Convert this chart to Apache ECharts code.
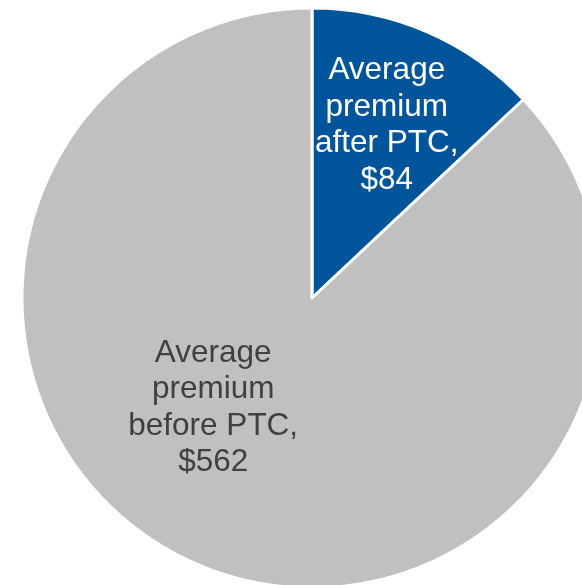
<!DOCTYPE html>
<html>
<head>
<meta charset="utf-8">
<script src="https://cdn.jsdelivr.net/npm/echarts@6/dist/echarts.min.js"></script>
<style>
html,body{margin:0;padding:0;background:#fff;}
#chart{width:582px;height:585px;}
</style>
</head>
<body>
<div id="chart"></div>
<script>
const categories = ['Average\npremium\nafter PTC,', 'Average\npremium\nbefore PTC,'];
const values = [84, 562];
const colors = ['#00559A', '#C0C0C0'];
const labelColors = ['#FFFFFF', '#404040'];
const labelOffsets = [[16, -37], [-40, -26]];

const chart = echarts.init(document.getElementById('chart'), null, {renderer: 'canvas'});
chart.setOption({
  animation: false,
  series: [{
    type: 'pie',
    center: [312, 298],
    radius: [0, 290],
    startAngle: 90,
    clockwise: true,
    avoidLabelOverlap: false,
    label: {
      show: true,
      position: 'inside',
      fontFamily: 'Liberation Sans, Arial, sans-serif',
      fontSize: 31.5,
      lineHeight: 36.5,
      align: 'center',
      formatter: p => p.name + '\n$' + p.value
    },
    labelLine: {show: false},
    itemStyle: {borderColor: '#ffffff', borderWidth: 3},
    emphasis: {disabled: true},
    data: categories.map((c, i) => ({
      name: c,
      value: values[i],
      itemStyle: {color: colors[i]},
      label: {color: labelColors[i], offset: labelOffsets[i]}
    }))
  }]
});
</script>
</body>
</html>
